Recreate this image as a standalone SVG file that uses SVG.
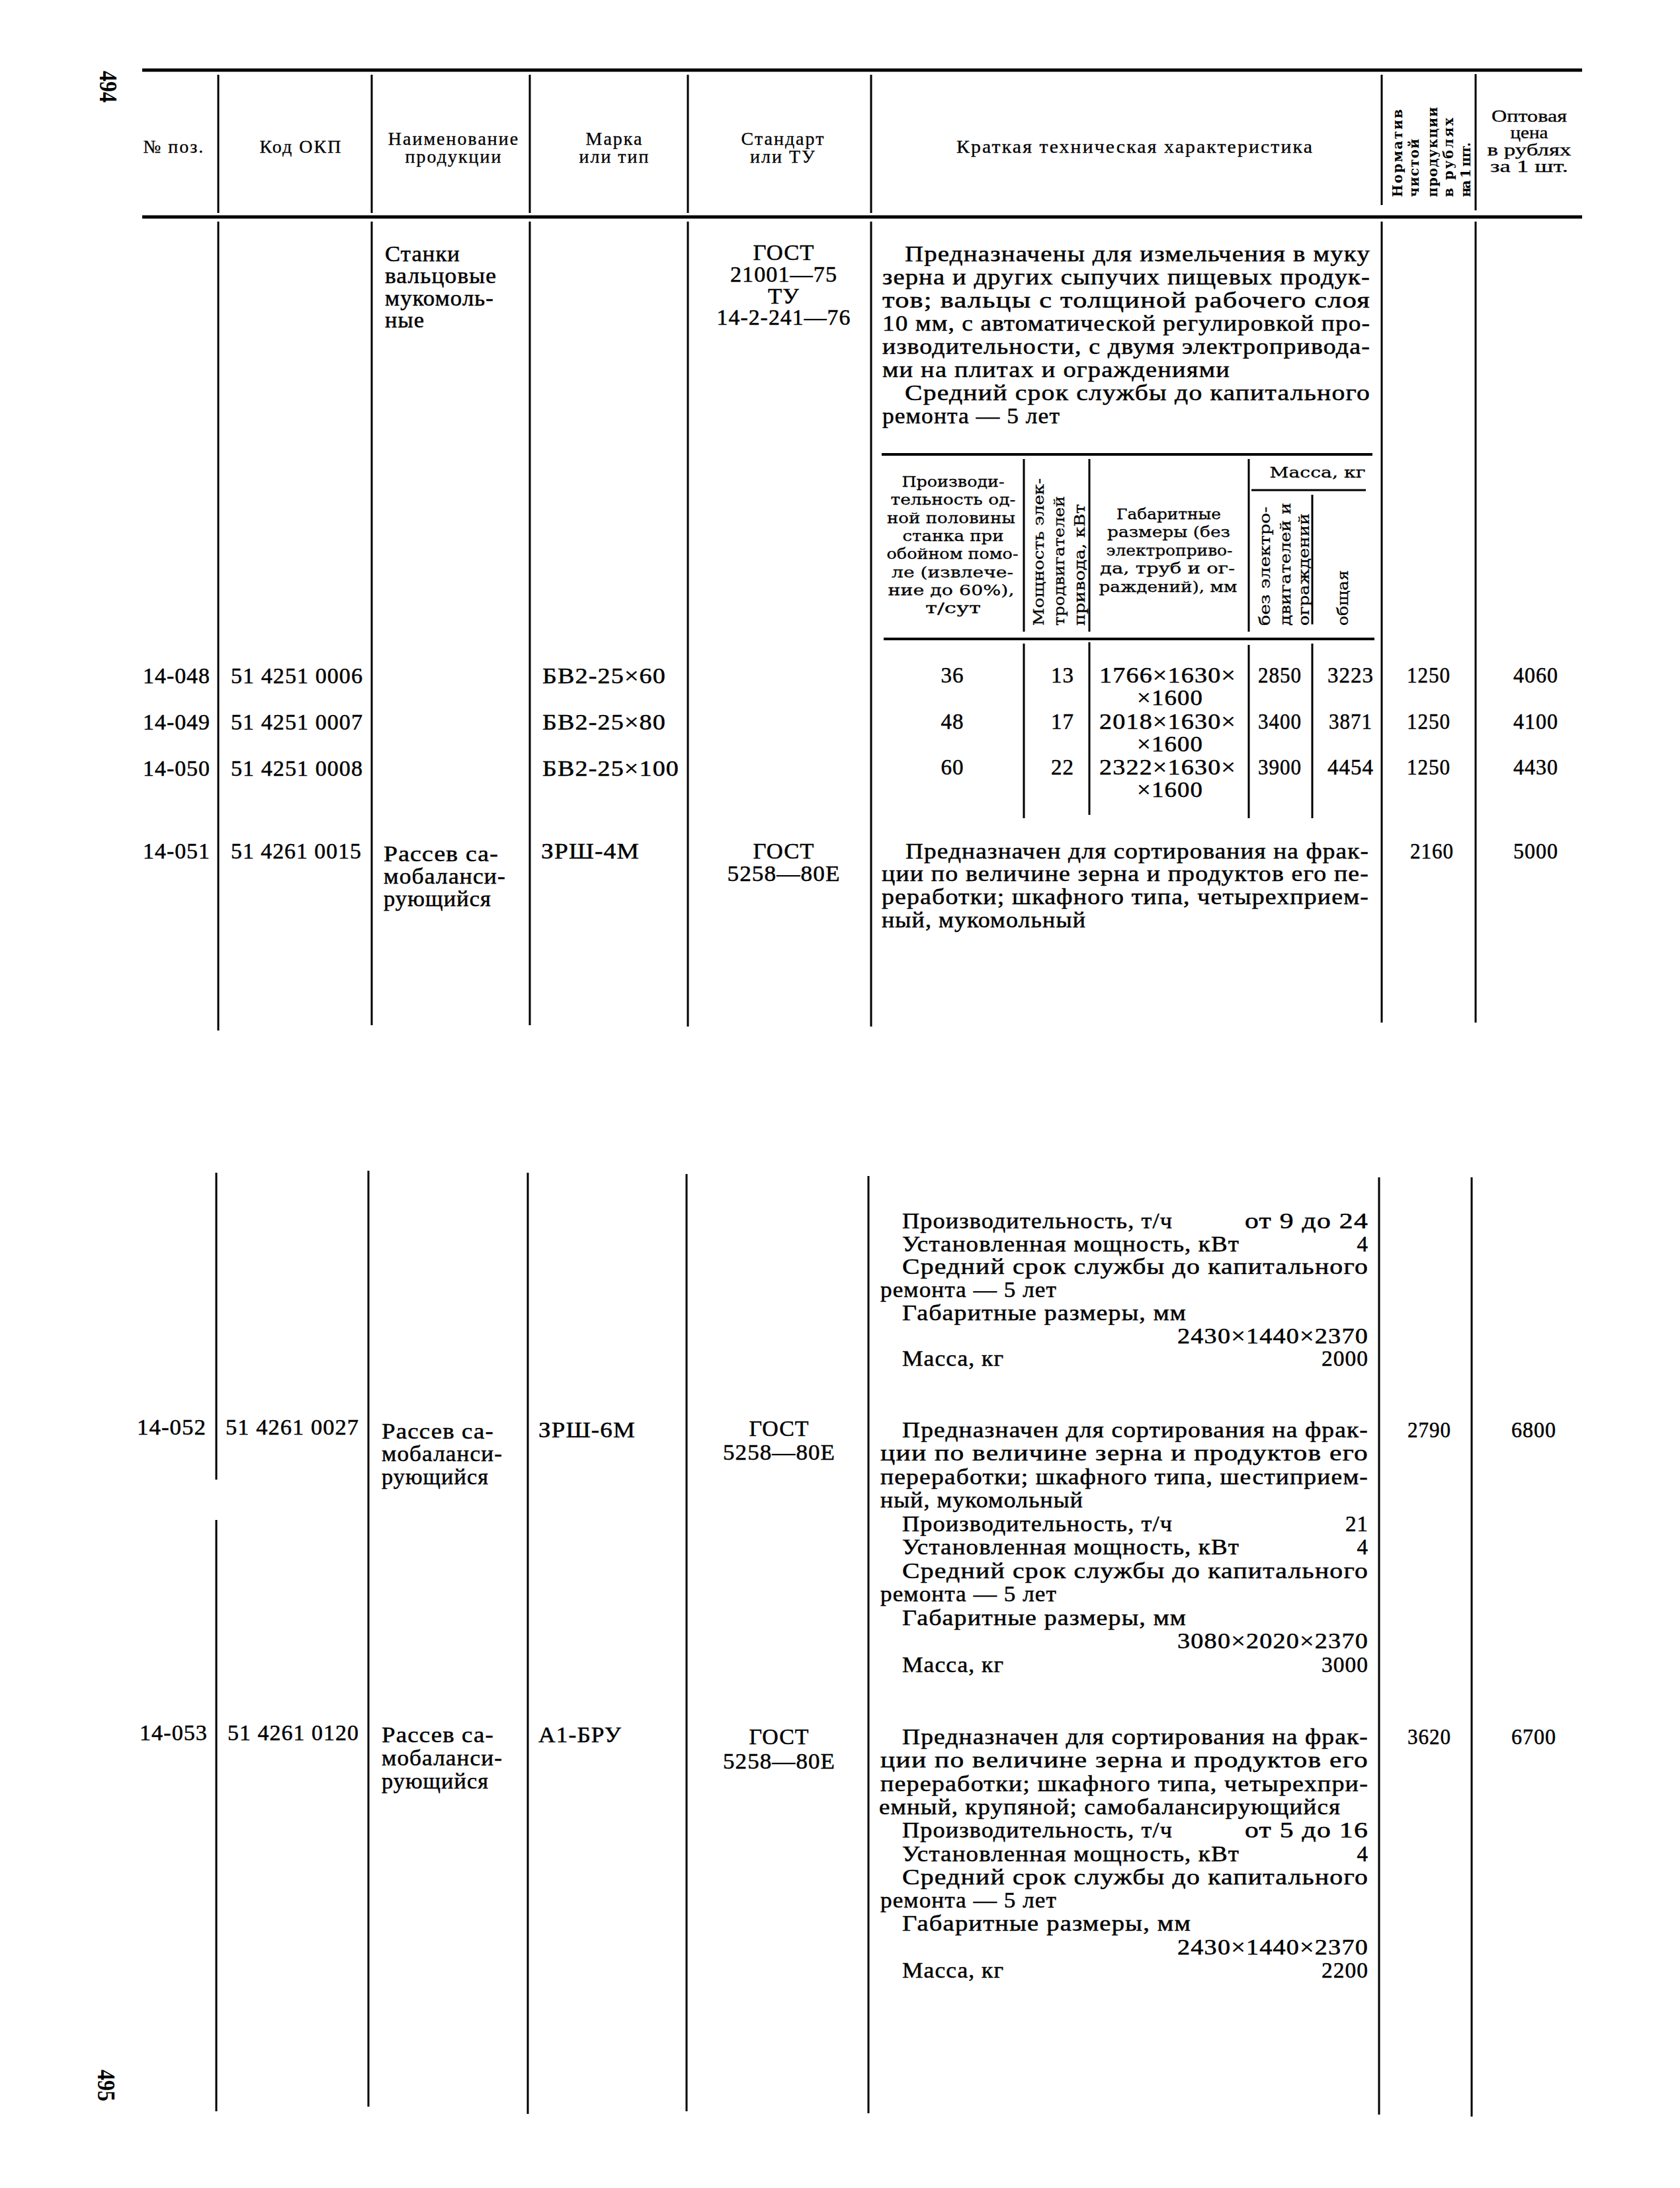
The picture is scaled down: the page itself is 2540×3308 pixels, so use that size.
<svg xmlns="http://www.w3.org/2000/svg" width="2540" height="3308" viewBox="0 0 2540 3308">
<style>
.ln{stroke:#000;stroke-width:3;fill:none}
.rule{stroke:#000;stroke-width:5;fill:none}
.st{stroke:#000;stroke-width:4;fill:none}
text{font-family:"Liberation Serif","DejaVu Serif",serif;fill:#000}
.b{font-size:33px;stroke:#000;stroke-width:0.5;letter-spacing:1px}
.h{font-size:28px;letter-spacing:2px;stroke:#000;stroke-width:0.3}
.op{font-size:25px;stroke:#000;stroke-width:0.3}
.sh{font-family:"DejaVu Serif","Liberation Serif",serif;font-size:23px;stroke:#000;stroke-width:0.3}
.nh{font-family:"DejaVu Serif","Liberation Serif",serif;font-size:20px;font-weight:bold}
.pg{font-size:38px;font-weight:bold}
.c{text-anchor:middle}
.e{text-anchor:end}
</style>
<rect width="2540" height="3308" fill="#fff"/>

<g id="page-numbers">
<text class="pg c" transform="translate(164,131) rotate(90)" y="13" textLength="48" lengthAdjust="spacingAndGlyphs">494</text>
<text class="pg c" transform="translate(161,3153) rotate(90)" y="13" textLength="48" lengthAdjust="spacingAndGlyphs">495</text>
</g>

<g id="rules">
<line class="rule" x1="215" y1="106" x2="2392" y2="106"/>
<line class="rule" x1="215" y1="328" x2="2392" y2="328"/>
<line class="ln" x1="330" y1="113" x2="330" y2="322"/>
<line class="ln" x1="562" y1="113" x2="562" y2="322"/>
<line class="ln" x1="801" y1="113" x2="801" y2="322"/>
<line class="ln" x1="1040" y1="113" x2="1040" y2="322"/>
<line class="ln" x1="1317" y1="113" x2="1317" y2="322"/>
<line class="ln" x1="2089" y1="113" x2="2089" y2="310"/>
<line class="ln" x1="2231" y1="112" x2="2231" y2="318"/>
<line class="ln" x1="330" y1="335" x2="330" y2="1558"/>
<line class="ln" x1="562" y1="335" x2="562" y2="1550"/>
<line class="ln" x1="801" y1="335" x2="801" y2="1550"/>
<line class="ln" x1="1040" y1="335" x2="1040" y2="1552"/>
<line class="ln" x1="1317" y1="335" x2="1317" y2="1552"/>
<line class="ln" x1="2089" y1="335" x2="2089" y2="1546"/>
<line class="ln" x1="2231" y1="335" x2="2231" y2="1546"/>
<line class="ln" x1="327" y1="1773" x2="327" y2="2237"/>
<line class="ln" x1="327" y1="2298" x2="327" y2="3192"/>
<line class="ln" x1="557" y1="1770" x2="557" y2="3185"/>
<line class="ln" x1="798" y1="1773" x2="798" y2="3196"/>
<line class="ln" x1="1038" y1="1775" x2="1038" y2="3192"/>
<line class="ln" x1="1313" y1="1778" x2="1313" y2="3195"/>
<line class="ln" x1="2085" y1="1780" x2="2085" y2="3197"/>
<line class="ln" x1="2225" y1="1780" x2="2225" y2="3200"/>
</g>

<g id="header">
<text class="h c" x="263" y="231">№ поз.</text>
<text class="h c" x="455" y="231">Код ОКП</text>
<text class="h c" x="686" y="219">Наименование</text>
<text class="h c" x="686" y="246">продукции</text>
<text class="h c" x="929" y="219">Марка</text>
<text class="h c" x="929" y="246">или тип</text>
<text class="h c" x="1184" y="219">Стандарт</text>
<text class="h c" x="1184" y="246">или ТУ</text>
<text class="h c" x="1716" y="231" textLength="540" lengthAdjust="spacingAndGlyphs">Краткая техническая характеристика</text>
<text class="nh" transform="translate(2113,298) rotate(-90)" y="7" textLength="133">Норматив</text>
<text class="nh" transform="translate(2138,298) rotate(-90)" y="7" textLength="88">чистой</text>
<text class="nh" transform="translate(2166,298) rotate(-90)" y="7" textLength="136">продукции</text>
<text class="nh" transform="translate(2190,298) rotate(-90)" y="7" textLength="120">в рублях</text>
<text class="nh" transform="translate(2216,298) rotate(-90)" y="7" textLength="83">на 1 шт.</text>
<text class="op c" x="2312" y="184" textLength="114" lengthAdjust="spacingAndGlyphs">Оптовая</text>
<text class="op c" x="2312" y="209" textLength="57" lengthAdjust="spacingAndGlyphs">цена</text>
<text class="op c" x="2312" y="235" textLength="127" lengthAdjust="spacingAndGlyphs">в рублях</text>
<text class="op c" x="2312" y="260" textLength="118" lengthAdjust="spacingAndGlyphs">за 1 шт.</text>
</g>

<g id="entry-stanki">
<text class="b" x="582" y="395" textLength="114" lengthAdjust="spacingAndGlyphs">Станки</text>
<text class="b" x="582" y="428" textLength="169" lengthAdjust="spacingAndGlyphs">вальцовые</text>
<text class="b" x="582" y="462" textLength="165" lengthAdjust="spacingAndGlyphs">мукомоль-</text>
<text class="b" x="582" y="495" textLength="60" lengthAdjust="spacingAndGlyphs">ные</text>
<text class="b c" x="1185" y="393" textLength="93" lengthAdjust="spacingAndGlyphs">ГОСТ</text>
<text class="b c" x="1185" y="426" textLength="162" lengthAdjust="spacingAndGlyphs">21001—75</text>
<text class="b c" x="1185" y="459" textLength="48" lengthAdjust="spacingAndGlyphs">ТУ</text>
<text class="b c" x="1185" y="491" textLength="203" lengthAdjust="spacingAndGlyphs">14-2-241—76</text>
<text class="b" x="1368" y="395" textLength="704" lengthAdjust="spacingAndGlyphs">Предназначены для  измельчения в муку</text>
<text class="b" x="1334" y="430" textLength="738" lengthAdjust="spacingAndGlyphs">зерна и других сыпучих пищевых продук-</text>
<text class="b" x="1334" y="465" textLength="738" lengthAdjust="spacingAndGlyphs">тов; вальцы  с  толщиной  рабочего  слоя</text>
<text class="b" x="1334" y="500" textLength="738" lengthAdjust="spacingAndGlyphs">10 мм, с автоматической регулировкой про-</text>
<text class="b" x="1334" y="535" textLength="738" lengthAdjust="spacingAndGlyphs">изводительности, с двумя  электропривода-</text>
<text class="b" x="1334" y="570" textLength="526" lengthAdjust="spacingAndGlyphs">ми на плитах и ограждениями</text>
<text class="b" x="1368" y="605" textLength="704" lengthAdjust="spacingAndGlyphs">Средний  срок  службы до капитального</text>
<text class="b" x="1334" y="640" textLength="269" lengthAdjust="spacingAndGlyphs">ремонта — 5 лет</text>
</g>

<g id="subtable">
<line class="st" x1="1333" y1="687" x2="2075" y2="687"/>
<line class="ln" x1="1892" y1="741" x2="2065" y2="741"/>
<line class="st" x1="1336" y1="966" x2="2078" y2="966"/>
<line class="ln" x1="1548" y1="694" x2="1548" y2="955"/>
<line class="ln" x1="1647" y1="694" x2="1647" y2="955"/>
<line class="ln" x1="1888" y1="694" x2="1888" y2="955"/>
<line class="ln" x1="1984" y1="748" x2="1984" y2="944"/>
<line class="ln" x1="1548" y1="973" x2="1548" y2="1237"/>
<line class="ln" x1="1647" y1="971" x2="1647" y2="1232"/>
<line class="ln" x1="1888" y1="975" x2="1888" y2="1237"/>
<line class="ln" x1="1984" y1="973" x2="1984" y2="1237"/>
<text class="sh c" x="1441" y="736" textLength="155" lengthAdjust="spacingAndGlyphs">Производи-</text>
<text class="sh c" x="1441" y="763" textLength="189" lengthAdjust="spacingAndGlyphs">тельность од-</text>
<text class="sh c" x="1438" y="791" textLength="194" lengthAdjust="spacingAndGlyphs">ной половины</text>
<text class="sh c" x="1441" y="818" textLength="153" lengthAdjust="spacingAndGlyphs">станка при</text>
<text class="sh c" x="1440" y="845" textLength="199" lengthAdjust="spacingAndGlyphs">обойном помо-</text>
<text class="sh c" x="1440" y="873" textLength="184" lengthAdjust="spacingAndGlyphs">ле (извлече-</text>
<text class="sh c" x="1438" y="900" textLength="191" lengthAdjust="spacingAndGlyphs">ние до 60%),</text>
<text class="sh c" x="1441" y="927" textLength="84" lengthAdjust="spacingAndGlyphs">т/сут</text>
<text class="sh" transform="translate(1570,946) rotate(-90)" y="8" textLength="223" lengthAdjust="spacingAndGlyphs">Мощность элек-</text>
<text class="sh" transform="translate(1601,946) rotate(-90)" y="8" textLength="196" lengthAdjust="spacingAndGlyphs">тродвигателей</text>
<text class="sh" transform="translate(1632,946) rotate(-90)" y="8" textLength="184" lengthAdjust="spacingAndGlyphs">привода, кВт</text>
<text class="sh c" x="1767" y="785" textLength="158" lengthAdjust="spacingAndGlyphs">Габаритные</text>
<text class="sh c" x="1767" y="812" textLength="186" lengthAdjust="spacingAndGlyphs">размеры (без</text>
<text class="sh c" x="1768" y="840" textLength="191" lengthAdjust="spacingAndGlyphs">электроприво-</text>
<text class="sh c" x="1765" y="867" textLength="204" lengthAdjust="spacingAndGlyphs">да, труб и ог-</text>
<text class="sh c" x="1766" y="895" textLength="209" lengthAdjust="spacingAndGlyphs">раждений), мм</text>
<text class="sh c" x="1992" y="722" textLength="145" lengthAdjust="spacingAndGlyphs">Масса, кг</text>
<text class="sh" transform="translate(1912,946) rotate(-90)" y="8" textLength="180" lengthAdjust="spacingAndGlyphs">без электро-</text>
<text class="sh" transform="translate(1943,946) rotate(-90)" y="8" textLength="186" lengthAdjust="spacingAndGlyphs">двигателей и</text>
<text class="sh" transform="translate(1971,946) rotate(-90)" y="8" textLength="170" lengthAdjust="spacingAndGlyphs">ограждений</text>
<text class="sh" transform="translate(2030,946) rotate(-90)" y="8" textLength="84" lengthAdjust="spacingAndGlyphs">общая</text>
</g>

<g id="rows-14-048-050">
<text class="b e" x="318" y="1033" textLength="102" lengthAdjust="spacingAndGlyphs">14-048</text>
<text class="b e" x="318" y="1103" textLength="102" lengthAdjust="spacingAndGlyphs">14-049</text>
<text class="b e" x="318" y="1173" textLength="102" lengthAdjust="spacingAndGlyphs">14-050</text>
<text class="b" x="349" y="1033" textLength="200" lengthAdjust="spacingAndGlyphs">51 4251 0006</text>
<text class="b" x="349" y="1103" textLength="200" lengthAdjust="spacingAndGlyphs">51 4251 0007</text>
<text class="b" x="349" y="1173" textLength="200" lengthAdjust="spacingAndGlyphs">51 4251 0008</text>
<text class="b" x="820" y="1033" textLength="187" lengthAdjust="spacingAndGlyphs">БВ2-25×60</text>
<text class="b" x="820" y="1103" textLength="187" lengthAdjust="spacingAndGlyphs">БВ2-25×80</text>
<text class="b" x="820" y="1173" textLength="207" lengthAdjust="spacingAndGlyphs">БВ2-25×100</text>
<text class="b c" x="1440" y="1032">36</text>
<text class="b c" x="1440" y="1102">48</text>
<text class="b c" x="1440" y="1171">60</text>
<text class="b e" x="1624" y="1032">13</text>
<text class="b e" x="1624" y="1102">17</text>
<text class="b e" x="1624" y="1171">22</text>
<text class="b" x="1662" y="1032" textLength="207" lengthAdjust="spacingAndGlyphs">1766×1630×</text>
<text class="b c" x="1769" y="1066" textLength="100" lengthAdjust="spacingAndGlyphs">×1600</text>
<text class="b" x="1662" y="1102" textLength="207" lengthAdjust="spacingAndGlyphs">2018×1630×</text>
<text class="b c" x="1769" y="1136" textLength="100" lengthAdjust="spacingAndGlyphs">×1600</text>
<text class="b" x="1662" y="1171" textLength="207" lengthAdjust="spacingAndGlyphs">2322×1630×</text>
<text class="b c" x="1769" y="1205" textLength="100" lengthAdjust="spacingAndGlyphs">×1600</text>
<text class="b c" x="1935" y="1032" textLength="66" lengthAdjust="spacingAndGlyphs">2850</text>
<text class="b c" x="1935" y="1102" textLength="66" lengthAdjust="spacingAndGlyphs">3400</text>
<text class="b c" x="1935" y="1171" textLength="66" lengthAdjust="spacingAndGlyphs">3900</text>
<text class="b c" x="2042" y="1032" textLength="70" lengthAdjust="spacingAndGlyphs">3223</text>
<text class="b c" x="2042" y="1102" textLength="66" lengthAdjust="spacingAndGlyphs">3871</text>
<text class="b c" x="2042" y="1171" textLength="70" lengthAdjust="spacingAndGlyphs">4454</text>
<text class="b c" x="2160" y="1032" textLength="66" lengthAdjust="spacingAndGlyphs">1250</text>
<text class="b c" x="2160" y="1102" textLength="66" lengthAdjust="spacingAndGlyphs">1250</text>
<text class="b c" x="2160" y="1171" textLength="66" lengthAdjust="spacingAndGlyphs">1250</text>
<text class="b c" x="2322" y="1032" textLength="68" lengthAdjust="spacingAndGlyphs">4060</text>
<text class="b c" x="2322" y="1102" textLength="68" lengthAdjust="spacingAndGlyphs">4100</text>
<text class="b c" x="2322" y="1171" textLength="68" lengthAdjust="spacingAndGlyphs">4430</text>
</g>

<g id="row-14-051">
<text class="b e" x="318" y="1298" textLength="102" lengthAdjust="spacingAndGlyphs">14-051</text>
<text class="b" x="349" y="1298" textLength="198" lengthAdjust="spacingAndGlyphs">51 4261 0015</text>
<text class="b" x="580" y="1302" textLength="174" lengthAdjust="spacingAndGlyphs">Рассев са-</text>
<text class="b" x="580" y="1336" textLength="185" lengthAdjust="spacingAndGlyphs">мобаланси-</text>
<text class="b" x="580" y="1370" textLength="163" lengthAdjust="spacingAndGlyphs">рующийся</text>
<text class="b" x="818" y="1298" textLength="149" lengthAdjust="spacingAndGlyphs">ЗРШ-4М</text>
<text class="b c" x="1185" y="1298" textLength="93" lengthAdjust="spacingAndGlyphs">ГОСТ</text>
<text class="b c" x="1185" y="1332" textLength="171" lengthAdjust="spacingAndGlyphs">5258—80Е</text>
<text class="b" x="1369" y="1298" textLength="701" lengthAdjust="spacingAndGlyphs">Предназначен для сортирования на фрак-</text>
<text class="b" x="1333" y="1332" textLength="737" lengthAdjust="spacingAndGlyphs">ции по величине зерна и продуктов его пе-</text>
<text class="b" x="1333" y="1367" textLength="737" lengthAdjust="spacingAndGlyphs">реработки; шкафного типа,  четырехприем-</text>
<text class="b" x="1333" y="1402" textLength="309" lengthAdjust="spacingAndGlyphs">ный, мукомольный</text>
<text class="b c" x="2165" y="1298" textLength="66" lengthAdjust="spacingAndGlyphs">2160</text>
<text class="b c" x="2322" y="1298" textLength="68" lengthAdjust="spacingAndGlyphs">5000</text>
<text class="b" x="1364" y="1857" textLength="409" lengthAdjust="spacingAndGlyphs">Производительность, т/ч</text>
<text class="b e" x="2069" y="1857" textLength="187" lengthAdjust="spacingAndGlyphs">от 9 до 24</text>
<text class="b" x="1364" y="1892" textLength="510" lengthAdjust="spacingAndGlyphs">Установленная  мощность, кВт</text>
<text class="b e" x="2069" y="1892">4</text>
<text class="b" x="1364" y="1926" textLength="705" lengthAdjust="spacingAndGlyphs">Средний  срок  службы до капитального</text>
<text class="b" x="1331" y="1961" textLength="267" lengthAdjust="spacingAndGlyphs">ремонта — 5 лет</text>
<text class="b" x="1364" y="1996" textLength="430" lengthAdjust="spacingAndGlyphs">Габаритные  размеры,  мм</text>
<text class="b e" x="2069" y="2031" textLength="289" lengthAdjust="spacingAndGlyphs">2430×1440×2370</text>
<text class="b" x="1364" y="2065" textLength="154" lengthAdjust="spacingAndGlyphs">Масса, кг</text>
<text class="b e" x="2069" y="2065" textLength="71" lengthAdjust="spacingAndGlyphs">2000</text>
</g>

<g id="row-14-052">
<text class="b e" x="312" y="2169" textLength="105" lengthAdjust="spacingAndGlyphs">14-052</text>
<text class="b" x="341" y="2169" textLength="202" lengthAdjust="spacingAndGlyphs">51 4261 0027</text>
<text class="b" x="577" y="2175" textLength="170" lengthAdjust="spacingAndGlyphs">Рассев са-</text>
<text class="b" x="577" y="2209" textLength="183" lengthAdjust="spacingAndGlyphs">мобаланси-</text>
<text class="b" x="577" y="2244" textLength="162" lengthAdjust="spacingAndGlyphs">рующийся</text>
<text class="b" x="814" y="2173" textLength="147" lengthAdjust="spacingAndGlyphs">ЗРШ-6М</text>
<text class="b c" x="1178" y="2171" textLength="91" lengthAdjust="spacingAndGlyphs">ГОСТ</text>
<text class="b c" x="1178" y="2207" textLength="170" lengthAdjust="spacingAndGlyphs">5258—80Е</text>
<text class="b" x="1364" y="2173" textLength="705" lengthAdjust="spacingAndGlyphs">Предназначен для сортирования на фрак-</text>
<text class="b" x="1331" y="2208" textLength="738" lengthAdjust="spacingAndGlyphs">ции по величине  зерна и продуктов  его</text>
<text class="b" x="1331" y="2244" textLength="738" lengthAdjust="spacingAndGlyphs">переработки; шкафного типа, шестиприем-</text>
<text class="b" x="1331" y="2279" textLength="307" lengthAdjust="spacingAndGlyphs">ный, мукомольный</text>
<text class="b" x="1364" y="2315" textLength="409" lengthAdjust="spacingAndGlyphs">Производительность, т/ч</text>
<text class="b e" x="2069" y="2315">21</text>
<text class="b" x="1364" y="2350" textLength="510" lengthAdjust="spacingAndGlyphs">Установленная  мощность, кВт</text>
<text class="b e" x="2069" y="2350">4</text>
<text class="b" x="1364" y="2386" textLength="705" lengthAdjust="spacingAndGlyphs">Средний  срок  службы до капитального</text>
<text class="b" x="1331" y="2421" textLength="267" lengthAdjust="spacingAndGlyphs">ремонта — 5 лет</text>
<text class="b" x="1364" y="2457" textLength="430" lengthAdjust="spacingAndGlyphs">Габаритные  размеры,  мм</text>
<text class="b e" x="2069" y="2492" textLength="289" lengthAdjust="spacingAndGlyphs">3080×2020×2370</text>
<text class="b" x="1364" y="2528" textLength="154" lengthAdjust="spacingAndGlyphs">Масса, кг</text>
<text class="b e" x="2069" y="2528" textLength="71" lengthAdjust="spacingAndGlyphs">3000</text>
<text class="b c" x="2161" y="2173" textLength="66" lengthAdjust="spacingAndGlyphs">2790</text>
<text class="b c" x="2319" y="2173" textLength="68" lengthAdjust="spacingAndGlyphs">6800</text>
</g>

<g id="row-14-053">
<text class="b e" x="314" y="2631" textLength="103" lengthAdjust="spacingAndGlyphs">14-053</text>
<text class="b" x="344" y="2631" textLength="199" lengthAdjust="spacingAndGlyphs">51 4261 0120</text>
<text class="b" x="577" y="2634" textLength="170" lengthAdjust="spacingAndGlyphs">Рассев са-</text>
<text class="b" x="577" y="2669" textLength="183" lengthAdjust="spacingAndGlyphs">мобаланси-</text>
<text class="b" x="577" y="2704" textLength="162" lengthAdjust="spacingAndGlyphs">рующийся</text>
<text class="b" x="814" y="2634" textLength="126" lengthAdjust="spacingAndGlyphs">А1-БРУ</text>
<text class="b c" x="1178" y="2637" textLength="91" lengthAdjust="spacingAndGlyphs">ГОСТ</text>
<text class="b c" x="1178" y="2674" textLength="170" lengthAdjust="spacingAndGlyphs">5258—80Е</text>
<text class="b" x="1364" y="2637" textLength="705" lengthAdjust="spacingAndGlyphs">Предназначен для сортирования на фрак-</text>
<text class="b" x="1331" y="2672" textLength="738" lengthAdjust="spacingAndGlyphs">ции по величине  зерна и продуктов  его</text>
<text class="b" x="1331" y="2708" textLength="738" lengthAdjust="spacingAndGlyphs">переработки;  шкафного  типа, четырехпри-</text>
<text class="b" x="1329" y="2743" textLength="698" lengthAdjust="spacingAndGlyphs">емный,  крупяной;  самобалансирующийся</text>
<text class="b" x="1364" y="2778" textLength="409" lengthAdjust="spacingAndGlyphs">Производительность, т/ч</text>
<text class="b e" x="2069" y="2778" textLength="187" lengthAdjust="spacingAndGlyphs">от 5 до 16</text>
<text class="b" x="1364" y="2814" textLength="510" lengthAdjust="spacingAndGlyphs">Установленная  мощность, кВт</text>
<text class="b e" x="2069" y="2814">4</text>
<text class="b" x="1364" y="2849" textLength="705" lengthAdjust="spacingAndGlyphs">Средний  срок  службы до капитального</text>
<text class="b" x="1331" y="2884" textLength="267" lengthAdjust="spacingAndGlyphs">ремонта — 5 лет</text>
<text class="b" x="1364" y="2919" textLength="437" lengthAdjust="spacingAndGlyphs">Габаритные  размеры,  мм</text>
<text class="b e" x="2069" y="2955" textLength="289" lengthAdjust="spacingAndGlyphs">2430×1440×2370</text>
<text class="b" x="1364" y="2990" textLength="154" lengthAdjust="spacingAndGlyphs">Масса, кг</text>
<text class="b e" x="2069" y="2990" textLength="71" lengthAdjust="spacingAndGlyphs">2200</text>
<text class="b c" x="2161" y="2637" textLength="66" lengthAdjust="spacingAndGlyphs">3620</text>
<text class="b c" x="2319" y="2637" textLength="68" lengthAdjust="spacingAndGlyphs">6700</text>
</g>
</svg>
